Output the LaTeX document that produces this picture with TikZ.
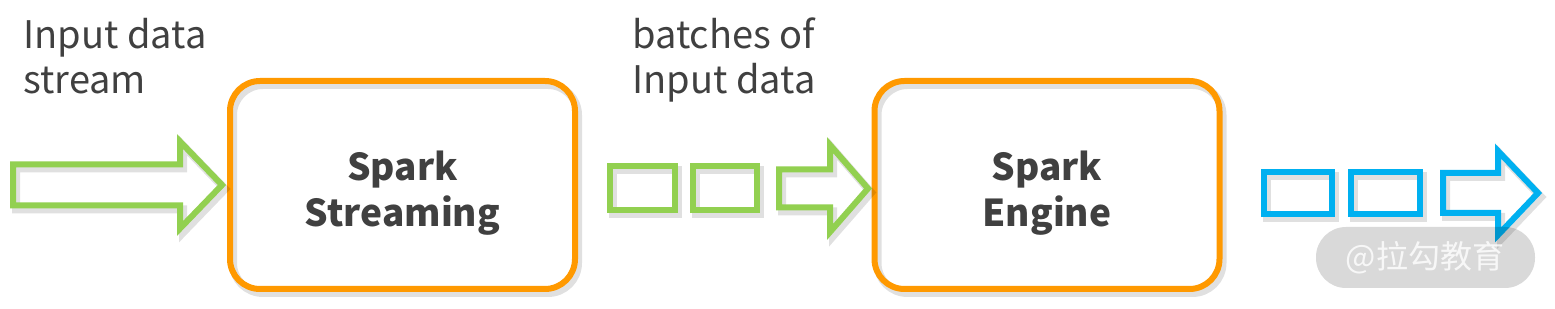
\documentclass[tikz,border=0pt]{standalone}
\usepackage{fontspec}
\setmainfont{Noto Sans CJK SC}
\definecolor{sgreen}{HTML}{92D050}
\definecolor{sorange}{HTML}{FF9900}
\definecolor{sblue}{HTML}{00B0F0}
\definecolor{stext}{HTML}{404040}
\tikzset{
  softshadow/.style={preaction={draw=black, draw opacity=0.12, line width=4pt, transform canvas={xshift=1.5pt, yshift=-2pt}}},
  engine/.style={draw=sorange, line width=3pt, rounded corners=15pt, minimum width=172.5pt, minimum height=104pt, inner sep=0pt, softshadow},
  enginetext/.style={text=stext, align=center, inner sep=0pt, font=\fontsize{18.5}{23}\selectfont\bfseries},
  batch/.style={line width=3pt, inner sep=0pt, softshadow},
  notetext/.style={text=stext, align=left, inner sep=0pt, font=\fontsize{19}{22.5}\selectfont},
}
\begin{document}
\begin{tikzpicture}[x=0.5pt, y=-0.5pt]
\useasboundingbox (0,0) rectangle (1555,309);

% Textos de cima
\node[notetext, anchor=north west] (instream) at (23,18) {Input data\\stream};
\node[notetext, anchor=north west] (inbatch) at (632,17) {batches of\\Input data};

% Caixas principais
\node[engine] (stream) at (402.5,185) {};
\node[enginetext] (streamtxt) at (402.5,193) {Spark\\Streaming};
\node[engine] (eng) at (1047,185) {};
\node[enginetext] (engtxt) at (1047,193) {Spark\\Engine};

% Lotes (verde: entrada, azul: saida)
\node[batch, draw=sgreen, minimum width=32.5pt, minimum height=22pt] (g1) at (642.5,188) {};
\node[batch, draw=sgreen, minimum width=32pt, minimum height=22pt] (g2) at (725,188) {};
\node[batch, draw=sblue, minimum width=34pt, minimum height=21pt] (b1) at (1298,193) {};
\node[batch, draw=sblue, minimum width=34.5pt, minimum height=21pt] (b2) at (1385.5,193) {};

% Setas largas: cauda / base da ponta / ponta / centro / meia haste / meia ponta
\foreach \xa/\xb/\xc/\yc/\s/\h/\col in {13/180/222/185/20.5/43.5/sgreen,
                                        779/830/868/188.5/19/43.5/sgreen,
                                        1443/1498/1538/193/20/42/sblue} {
    \draw[draw=\col, line width=3pt, softshadow] (\xa,\yc-\s) -- (\xb,\yc-\s) -- (\xb,\yc-\h) -- (\xc,\yc)
        -- (\xb,\yc+\h) -- (\xb,\yc+\s) -- (\xa,\yc+\s) -- cycle;
}

% Marca d'agua
\fill[black, opacity=0.15, rounded corners=15pt] (1316,227) rectangle (1535,288);
\node[text=white, opacity=0.8, inner sep=0pt, font=\fontsize{16}{16}\selectfont] (mark) at (1425,257.5) {@拉勾教育};
\end{tikzpicture}
\end{document}
